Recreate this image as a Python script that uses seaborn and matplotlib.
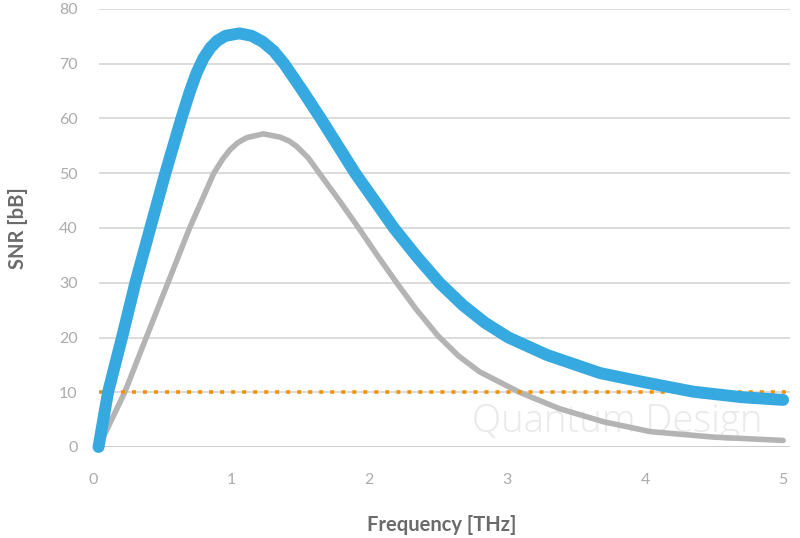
import matplotlib
matplotlib.use("Agg")
import matplotlib.pyplot as plt
import seaborn as sns
import pandas as pd

# Data
freq_blue = [0.04, 0.109, 0.21, 0.307, 0.415, 0.524, 0.64, 0.70, 0.75, 0.80, 0.85,
             0.90, 0.96, 1.06, 1.15, 1.23, 1.31, 1.385, 1.52, 1.65, 1.775, 1.90,
             2.04, 2.18, 2.345, 2.51, 2.68, 2.84, 3.01, 3.29, 3.674, 4.0, 4.35,
             4.7, 5.0]
snr_blue = [0.0, 10.0, 20.0, 30.0, 40.0, 50.0, 60.0, 64.8, 68.3, 71.0, 72.9,
            74.2, 75.1, 75.55, 75.1, 74.0, 72.3, 70.0, 65.0, 60.0, 55.0, 50.0,
            45.0, 40.0, 34.8, 30.0, 25.9, 22.7, 20.0, 16.8, 13.5, 11.8, 10.1,
            9.1, 8.6]

freq_gray = [0.04, 0.23, 0.386, 0.543, 0.70, 0.80, 0.875, 0.94, 0.993, 1.05, 1.114,
             1.234, 1.355, 1.42, 1.476, 1.56, 1.64, 1.785, 1.925, 2.06, 2.20, 2.34,
             2.50, 2.65, 2.80, 3.09, 3.38, 3.70, 4.04, 4.50, 5.00]
snr_gray = [0.0, 10.0, 20.0, 30.0, 40.0, 45.7, 50.0, 52.6, 54.3, 55.6, 56.5,
            57.2, 56.6, 55.9, 54.9, 52.8, 50.0, 45.0, 40.0, 35.0, 30.0, 25.2,
            20.3, 16.6, 13.75, 10.0, 7.0, 4.6, 2.8, 1.8, 1.2]

freq_thresh = [0.043, 5.05]
snr_thresh = [10.0, 10.0]

x_ticks = [0, 1, 2, 3, 4, 5]
y_ticks = [0, 10, 20, 30, 40, 50, 60, 70, 80]

blue_df = pd.DataFrame({"freq": freq_blue, "snr": snr_blue})
gray_df = pd.DataFrame({"freq": freq_gray, "snr": snr_gray})
thr_df = pd.DataFrame({"freq": freq_thresh, "snr": snr_thresh})

sns.set_theme(style="white")
plt.rcParams["font.family"] = ["Lato", "DejaVu Sans"]

fig = plt.figure(figsize=(8, 5.38), dpi=100)
ax = fig.add_axes([93 / 800, 1 - 447 / 538, 697 / 800, 438 / 538])

# gridlines
ax.hlines(y_ticks[1:], freq_thresh[0], freq_thresh[1], colors="#d9d9d9", lw=1.3, zorder=0)
ax.hlines([0], freq_thresh[0], freq_thresh[1], colors="#c8c8c8", lw=1.3, zorder=0)

ax.text(3.80, 2.74, "Quantum Design", fontsize=27.5, color="#e9e9e9", ha="center",
        va="baseline", family=["Open Sans", "DejaVu Sans"], fontweight="light", zorder=1)

sns.lineplot(data=gray_df, x="freq", y="snr", ax=ax, color="#b4b4b4", lw=4.0,
             sort=False, estimator=None, solid_capstyle="round",
             solid_joinstyle="round", zorder=3)
sns.lineplot(data=thr_df, x="freq", y="snr", ax=ax, color="#f39200", lw=2.6,
             sort=False, estimator=None, zorder=4)
ax.lines[-1].set_linestyle((0, (1.1, 1.95)))
sns.lineplot(data=blue_df, x="freq", y="snr", ax=ax, color="#36a9e1", lw=8.6,
             sort=False, estimator=None, solid_capstyle="round",
             solid_joinstyle="round", zorder=5)
for ln in ax.lines:
    ln.set_clip_on(False)

ax.set_xlim(0, 5.05)
ax.set_ylim(0, 80)
ax.set_xticks(x_ticks)
ax.set_yticks(y_ticks)
ax.tick_params(axis="both", length=0, labelsize=11.5, labelcolor="#ababab")
ax.tick_params(axis="x", pad=19)
ax.tick_params(axis="y", pad=11)
for s in ax.spines.values():
    s.set_visible(False)
ax.grid(False)

ax.set_xlabel("Frequency [THz]", fontsize=14.5, fontweight="bold", color="#6b6b6b", labelpad=20)
ax.set_ylabel("SNR [bB]", fontsize=14.5, fontweight="bold", color="#6b6b6b", labelpad=22)

fig.savefig("out.png", dpi=100)
